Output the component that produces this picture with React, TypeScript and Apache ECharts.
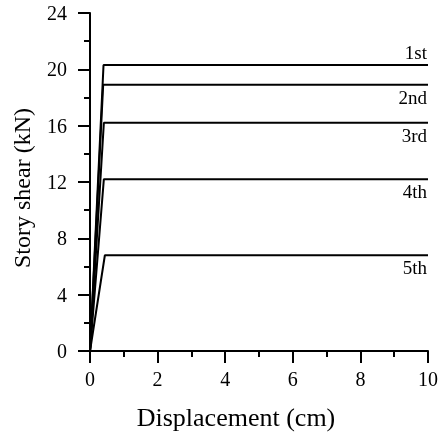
import React, { useEffect, useRef } from "react";
import * as echarts from "echarts";

// Bilinear story shear vs displacement curves, one per story
const stories = ["1st", "2nd", "3rd", "4th", "5th"];
const yieldDisp = [0.4, 0.39, 0.41, 0.41, 0.44]; // cm
const yieldShear = [20.3, 18.9, 16.2, 12.2, 6.8]; // kN
const maxDisp = 10; // cm
const labelAbove = [true, false, false, false, false];

const FONT = '"Liberation Serif", "Times New Roman", serif';

export default function App() {
  const ref = useRef<HTMLDivElement>(null);

  useEffect(() => {
    if (!ref.current) return;
    document.body.style.margin = "0";
    document.body.style.overflow = "hidden";
    const chart = echarts.init(ref.current, null, { renderer: "svg" });

    const series = stories.map((name, i) => ({
      name,
      type: "line",
      symbol: "circle",
      symbolSize: 0,
      showSymbol: true,
      lineStyle: { color: "#000", width: 2 },
      itemStyle: { color: "#000" },
      label: { show: false },
      data: [
        [0, 0],
        [yieldDisp[i], yieldShear[i]],
        {
          value: [maxDisp, yieldShear[i]],
          label: {
            show: true,
            formatter: name,
            position: labelAbove[i] ? "top" : "bottom",
            align: "right",
            distance: 3,
            offset: [-1, 0],
            color: "#000",
            fontFamily: FONT,
            fontSize: 19,
          },
        },
      ],
    }));

    const axisCommon = {
      type: "value" as const,
      axisLine: { show: true, lineStyle: { color: "#000", width: 2 } },
      axisTick: { show: true, inside: false, length: 12, lineStyle: { color: "#000", width: 2 } },
      minorTick: { show: true, splitNumber: 2, length: 6, lineStyle: { color: "#000", width: 2 } },
      splitLine: { show: false },
      minorSplitLine: { show: false },
      nameLocation: "middle" as const,
    };

    chart.setOption({
      animation: false,
      grid: { left: 90, right: 10, top: 13, bottom: 82, containLabel: false },
      xAxis: {
        ...axisCommon,
        min: 0,
        max: 10,
        interval: 2,
        name: "Displacement (cm)",
        nameGap: 53,
        nameTextStyle: { color: "#000", fontFamily: FONT, fontSize: 26, padding: [0, 46, 0, 0] },
        axisLabel: { color: "#000", fontFamily: FONT, fontSize: 20, margin: 18 },
      },
      yAxis: {
        ...axisCommon,
        min: 0,
        max: 24,
        interval: 4,
        name: "Story shear (kN)",
        nameGap: 56,
        nameTextStyle: { color: "#000", fontFamily: FONT, fontSize: 24, padding: [0, 12, 0, 0] },
        axisLabel: { color: "#000", fontFamily: FONT, fontSize: 20, margin: 23 },
      },
      series,
    });

    return () => chart.dispose();
  }, []);

  return (
    <div
      ref={ref}
      style={{ position: "fixed", left: 0, top: 0, width: 441, height: 435 }}
    />
  );
}
